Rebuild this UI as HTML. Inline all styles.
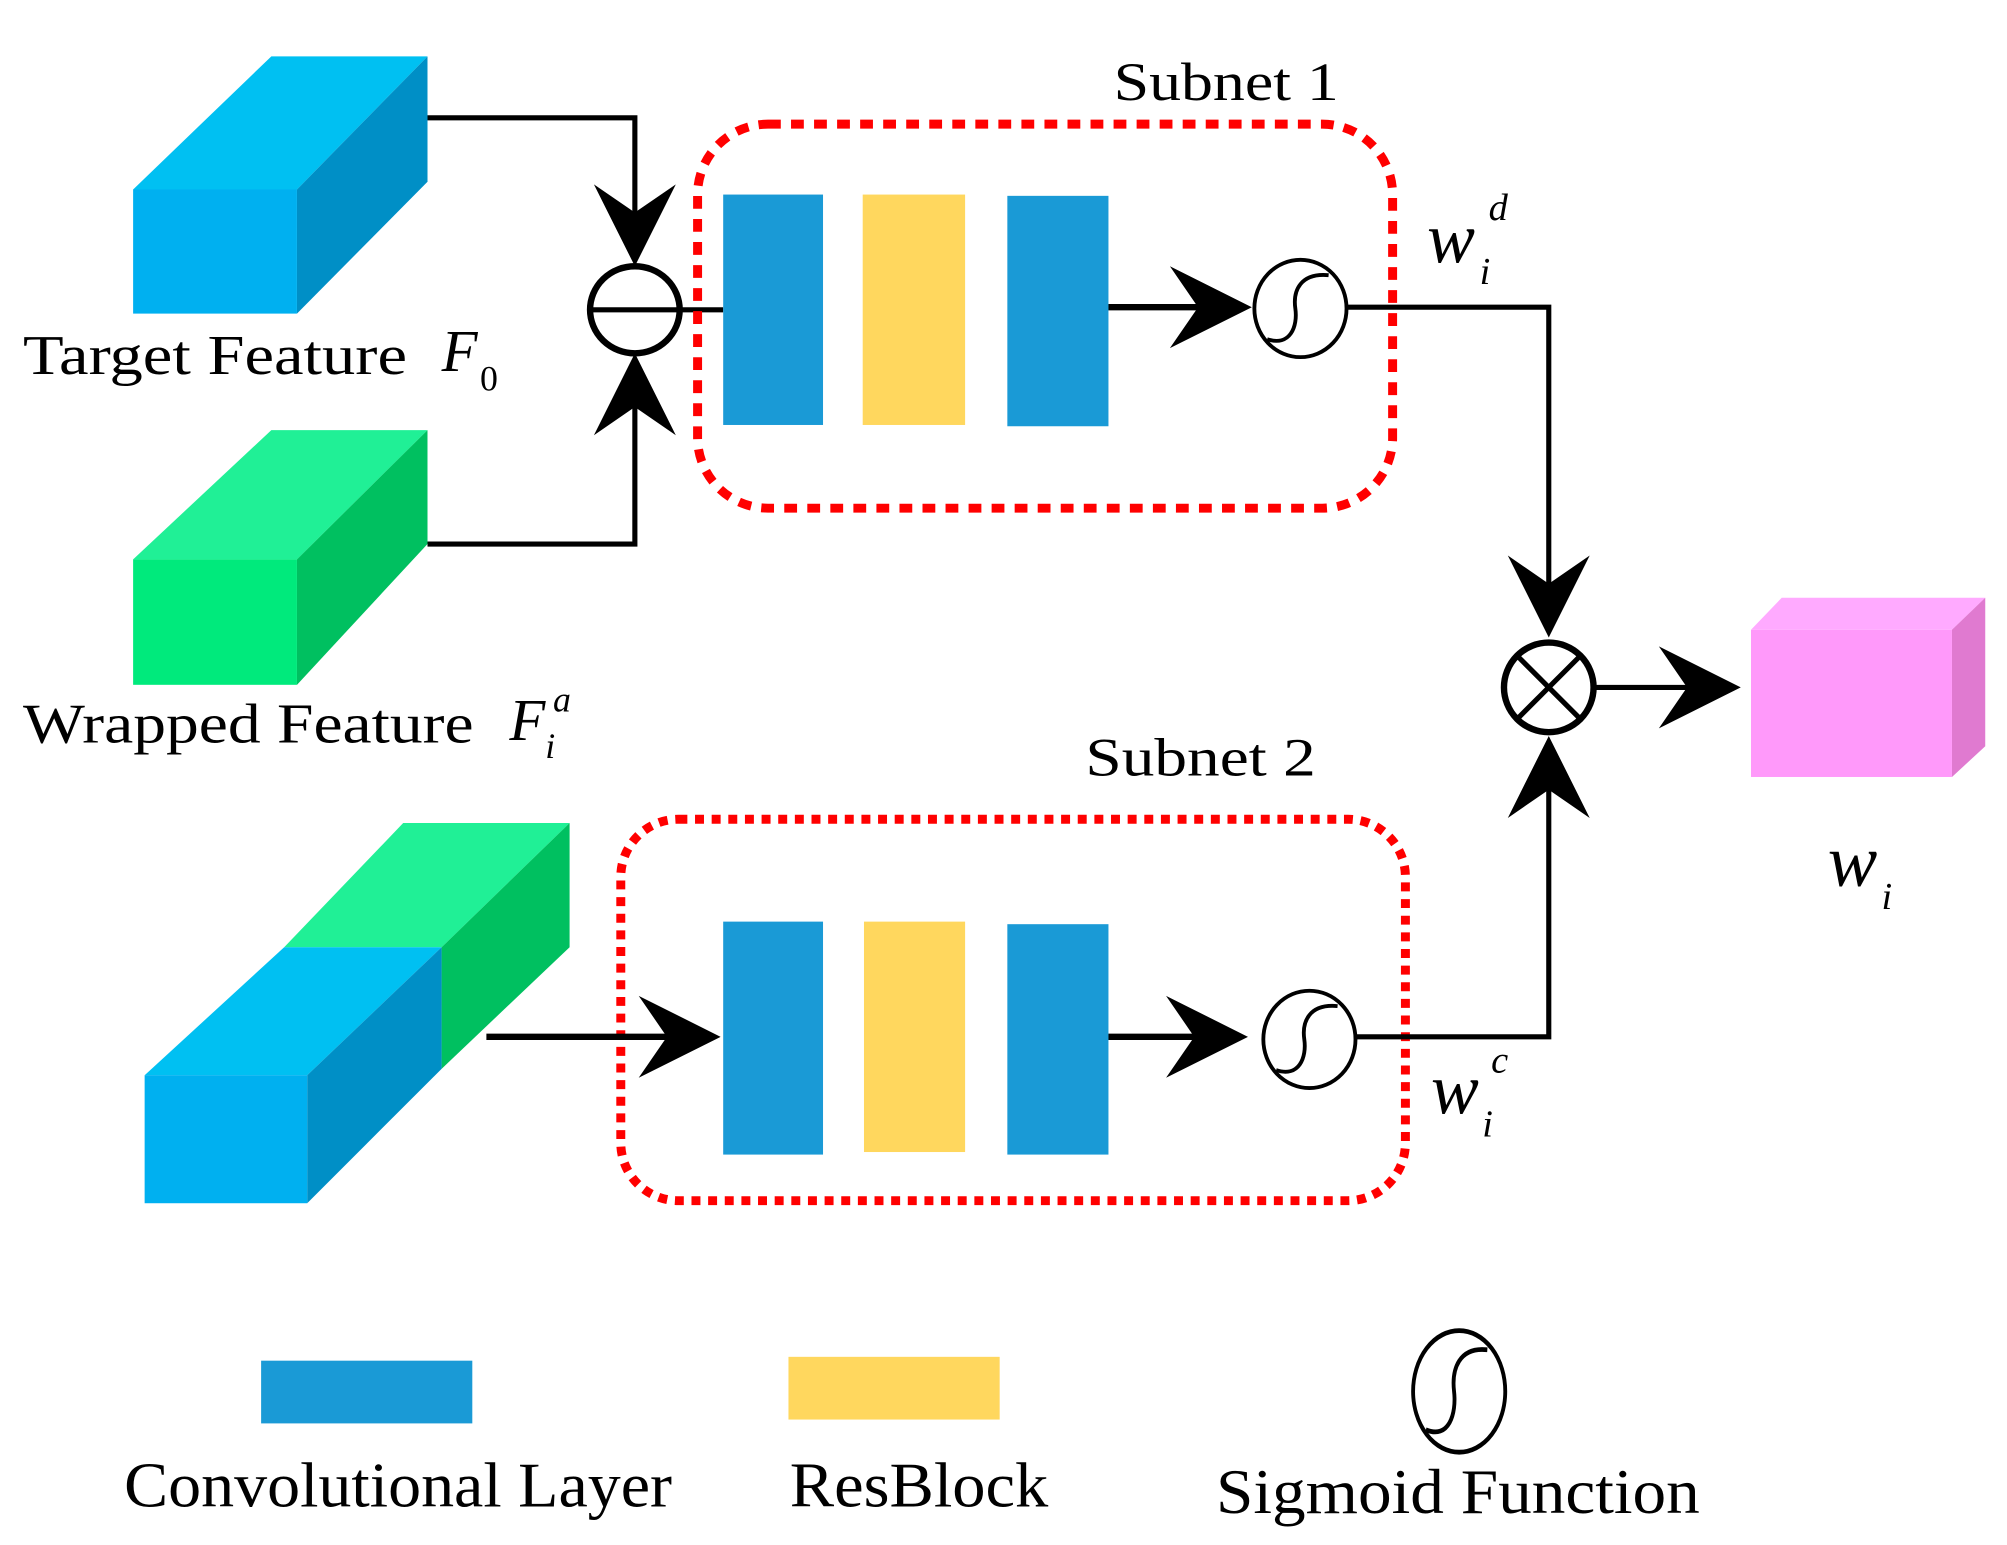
<!DOCTYPE html>
<html><head><meta charset="utf-8"><style>html,body{margin:0;padding:0;background:#fff}svg{display:block}</style></head>
<body>
<svg width="2007" height="1545" viewBox="0 0 1568 1207" preserveAspectRatio="none" xmlns="http://www.w3.org/2000/svg">
<defs>
<path id="ah" d="M0,0 L-64,-32 L-42,0 L-64,32 Z" fill="#000"/>
<g id="sig"><ellipse cx="0" cy="0" rx="36" ry="38" fill="#fff" stroke="#000" stroke-width="3"/><path d="M-26,24 C-8,30 -2,14 -4,0 C-6,-14 0,-28 22,-26" fill="none" stroke="#000" stroke-width="3"/></g>
</defs>
<rect width="1568" height="1207" fill="#fff"/>
<g font-family="Liberation Serif, serif" fill="#000">
<polygon points="104,148 212,44 334,44 232,148" fill="#00c0f2"/>
<polygon points="232,148 334,44 334,142 232,245" fill="#008fc6"/>
<rect x="104" y="148" width="128" height="97" fill="#00b0f0"/>
<polygon points="104,437 212,336 334,336 232,437" fill="#20f096"/>
<polygon points="232,437 334,336 334,425 232,535" fill="#00c060"/>
<rect x="104" y="437" width="128" height="98" fill="#00ea7c"/>
<text x="18" y="292" font-size="44" textLength="300" lengthAdjust="spacingAndGlyphs">Target Feature</text>
<text x="345" y="290" font-size="46" font-style="italic">F</text><text x="375" y="305" font-size="28">0</text>
<text x="18" y="580" font-size="44" textLength="352" lengthAdjust="spacingAndGlyphs">Wrapped Feature</text>
<text x="398" y="578" font-size="46" font-style="italic">F</text><text x="426" y="592" font-size="28" font-style="italic">i</text><text x="432" y="556" font-size="28" font-style="italic">a</text>
<polyline points="334,92 496,92 496,200" fill="none" stroke="#000" stroke-width="4"/>
<polyline points="334,425 496,425 496,285" fill="none" stroke="#000" stroke-width="4"/>
<use href="#ah" transform="translate(496,208) rotate(90)"/>
<use href="#ah" transform="translate(496,276) rotate(-90)"/>
<ellipse cx="496" cy="242" rx="35" ry="34" fill="#fff" stroke="#000" stroke-width="5"/>
<line x1="461" y1="242" x2="565" y2="242" stroke="#000" stroke-width="4"/>
<rect x="545" y="97" width="543" height="300" rx="55" fill="none" stroke="#f00" stroke-width="7" stroke-dasharray="10 8"/>
<text x="870" y="78" font-size="42" textLength="176" lengthAdjust="spacingAndGlyphs">Subnet 1</text>
<rect x="565" y="152" width="78" height="180" fill="#1a9ad6"/>
<rect x="674" y="152" width="80" height="180" fill="#ffd75e"/>
<rect x="787" y="153" width="79" height="180" fill="#1a9ad6"/>
<line x1="866" y1="240" x2="960" y2="240" stroke="#000" stroke-width="5"/>
<use href="#ah" transform="translate(978,240)"/>
<use href="#sig" transform="translate(1016,241)"/>
<polyline points="1053,240 1210,240 1210,480" fill="none" stroke="#000" stroke-width="4"/>
<use href="#ah" transform="translate(1210,498) rotate(90)"/>
<text x="1115" y="205" font-size="56" font-style="italic">w</text><text x="1156" y="222" font-size="30" font-style="italic">i</text><text x="1163" y="172" font-size="30" font-style="italic">d</text>
<circle cx="1210" cy="537" r="35" fill="#fff" stroke="#000" stroke-width="5"/>
<line x1="1185" y1="512" x2="1235" y2="562" stroke="#000" stroke-width="4"/>
<line x1="1235" y1="512" x2="1185" y2="562" stroke="#000" stroke-width="4"/>
<line x1="1245" y1="537" x2="1345" y2="537" stroke="#000" stroke-width="4"/>
<use href="#ah" transform="translate(1360,537)"/>
<polygon points="1368,492 1392,467 1551,467 1525,492" fill="#ffaaff"/>
<polygon points="1525,492 1551,467 1551,583 1525,607" fill="#e07ad0"/>
<rect x="1368" y="492" width="157" height="115" fill="#ff99fa"/>
<text x="1428" y="692" font-size="58" font-style="italic">w</text><text x="1470" y="710" font-size="30" font-style="italic">i</text>
<text x="848" y="606" font-size="42" textLength="180" lengthAdjust="spacingAndGlyphs">Subnet 2</text>
<rect x="485" y="640" width="613" height="298" rx="45" fill="none" stroke="#f00" stroke-width="7" stroke-dasharray="7 6"/>
<polygon points="222,740 315,643 445,643 345,740" fill="#20f096"/>
<polygon points="345,740 445,643 445,740 345,835" fill="#00c060"/>
<polygon points="113,840 222,740 345,740 240,840" fill="#00c0f2"/>
<polygon points="240,840 345,740 345,835 240,940" fill="#008fc6"/>
<rect x="113" y="840" width="127" height="100" fill="#00b0f0"/>
<line x1="380" y1="810" x2="545" y2="810" stroke="#000" stroke-width="5"/>
<use href="#ah" transform="translate(563,810)"/>
<rect x="565" y="720" width="78" height="182" fill="#1a9ad6"/>
<rect x="675" y="720" width="79" height="180" fill="#ffd75e"/>
<rect x="787" y="722" width="79" height="180" fill="#1a9ad6"/>
<line x1="866" y1="810" x2="958" y2="810" stroke="#000" stroke-width="5"/>
<use href="#ah" transform="translate(975,810)"/>
<use href="#sig" transform="translate(1023,812)"/>
<polyline points="1060,810 1210,810 1210,590" fill="none" stroke="#000" stroke-width="4"/>
<use href="#ah" transform="translate(1210,575) rotate(-90)"/>
<text x="1118" y="870" font-size="56" font-style="italic">w</text><text x="1158" y="888" font-size="30" font-style="italic">i</text><text x="1165" y="838" font-size="30" font-style="italic">c</text>
<rect x="204" y="1063" width="165" height="49" fill="#1a9ad6"/>
<rect x="616" y="1060" width="165" height="49" fill="#ffd75e"/>
<g transform="translate(1140,1087) scale(1,1.25)"><use href="#sig"/></g>
<text x="97" y="1177" font-size="50" textLength="428" lengthAdjust="spacingAndGlyphs">Convolutional Layer</text>
<text x="617" y="1177" font-size="50" textLength="202" lengthAdjust="spacingAndGlyphs">ResBlock</text>
<text x="950" y="1182" font-size="50" textLength="378" lengthAdjust="spacingAndGlyphs">Sigmoid Function</text>
</g>
</svg>
</body></html>
